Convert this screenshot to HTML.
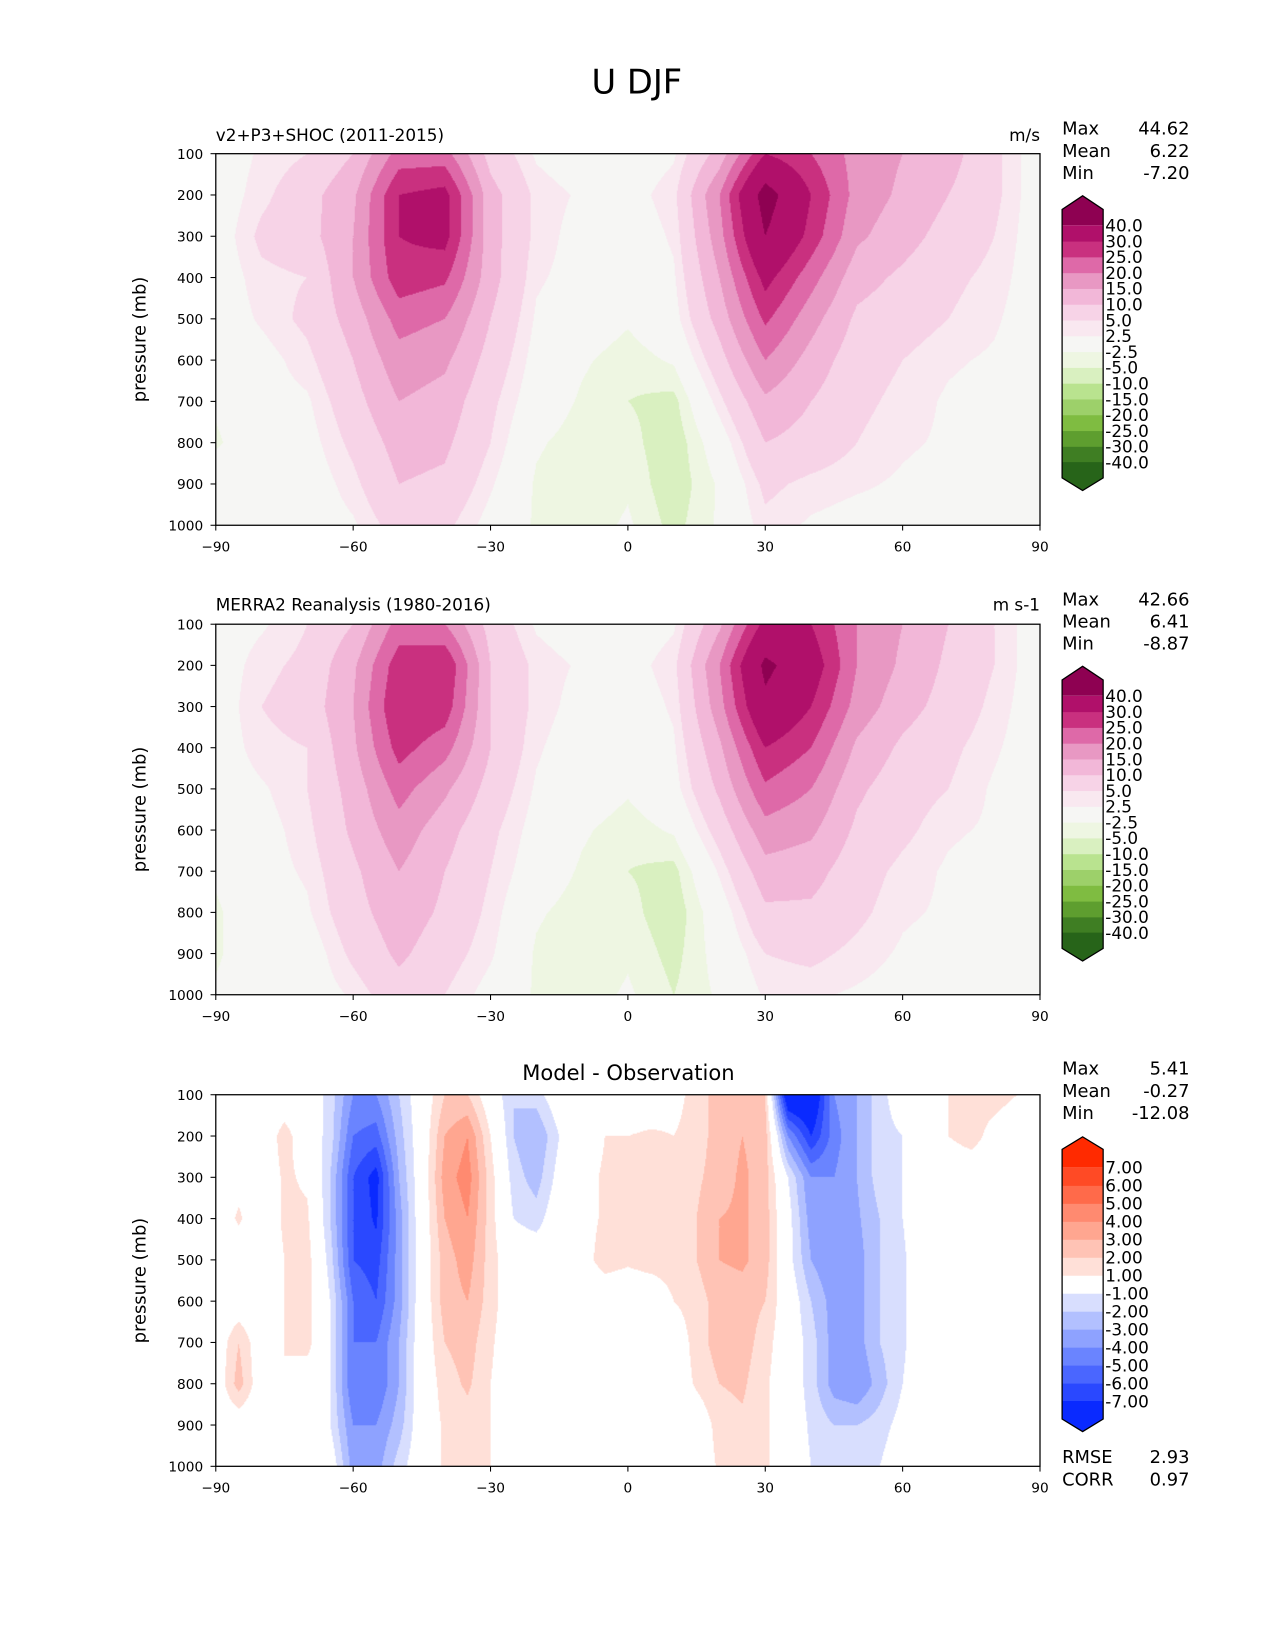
<!DOCTYPE html>
<html><head><meta charset="utf-8">
<style>
body{margin:0;background:#fff;overflow:hidden;}
#wrap{position:relative;width:1275px;height:1650px;overflow:hidden;}
#root{position:absolute;left:0;top:0;width:1212px;height:1568px;transform:scale(1.05263);transform-origin:0 0;font-family:"DejaVu Sans","Liberation Sans",sans-serif;}
canvas{position:absolute;}
svg{position:absolute;left:0;top:0;}
</style></head>
<body>
<div id="wrap">
<div id="root">
<canvas id="c1" style="left:205px;top:146px" width="783" height="353"></canvas>
<canvas id="c2" style="left:205px;top:593px" width="783" height="352"></canvas>
<canvas id="c3" style="left:205px;top:1040px" width="783" height="353"></canvas>
<svg id="ov" width="1212" height="1568"></svg>
</div>
</div>
<script>
const pressures=[100,200,300,400,500,600,700,800,900,1000];
const lat10=[-90,-80,-70,-60,-50,-40,-30,-20,-10,0,10,20,30,40,50,60,70,80,90];
const lat5=[-90,-85,-80,-75,-70,-65,-60,-55,-50,-45,-40,-35,-30,-25,-20,-15,-10,-5,0,5,10,15,20,25,30,35,40,45,50,55,60,65,70,75,80,85,90];
const modelU=[
[0,3,5,10,22,22,8,2,0,0,2,12,30,25,18,15,12,6,0],
[0,4,8,14,30,32,12,4,2,1,4,20,44,30,18,14,10,6,0],
[0,6,8,15,30,32,12,4,1,0,3,18,40,28,16,12,8,5,0],
[0,4,5,15,28,26,12,3,1,0,2,15,32,22,12,9,6,4,0],
[0,3,6,12,22,20,10,2,0,-2,1,12,26,17,9,7,5,3,0],
[0,1,4,10,18,16,8,1,-2,-4,-2,8,20,13,7,5,3,2,0],
[-2,1,2,8,15,13,6,0,-3,-5,-6,4,14,10,6,4,2,1,0],
[-3,0,1,6,12,11,5,-2,-4,-4,-7,0,10,8,5,3,2,1,0],
[0,0,0,4,10,9,3,-3,-5,-3,-7,-2,6,4,3,2,1,0,0],
[0,0,0,2,7,6,1,-3,-4,-2,-6,-2,4,2,1,1,0,0,0]];
const obsU=[
[0,2,5,10,22,20,8,2,0,0,2,14,32,30,20,15,10,5,0],
[0,4,6,14,28,30,10,4,2,1,4,20,42,34,20,14,9,5,0],
[0,5,7,15,30,28,10,4,1,0,3,18,38,30,18,12,8,4,0],
[0,4,5,14,27,22,10,3,0,0,2,14,30,25,14,9,6,3,0],
[0,2,5,12,22,16,8,2,0,-2,1,11,24,20,11,7,5,2,0],
[0,1,4,11,18,12,6,1,-2,-4,-2,7,18,16,9,6,3,2,0],
[-2,1,3,9,15,10,5,0,-3,-5,-6,3,13,12,7,4,2,1,0],
[-3,0,2,8,13,9,4,-2,-4,-4,-7,0,9,9,6,3,2,1,0],
[-3,0,0,6,11,7,3,-3,-5,-3,-6,-1,5,6,4,2,1,0,0],
[-2,0,0,3,8,5,1,-3,-4,-2,-5,-2,3,3,2,1,0,0,0]];
const diffU=[
[0,0,0,0,0,-1.5,-4,-4,-2,0,2,2,0,-2,-1.5,0,0,0,0,0,0.5,1.5,2.5,3,2,-9,-9,-4,-3,-1.5,0,0,1,1.5,1.5,1,0],
[0,0,0,1.5,0,-1.5,-5,-5.5,-2.5,0,3,4,1,-2,-3,-1,0,1,1,1.2,1,1.5,2.5,3,2.5,-4,-7,-4.5,-3,-1.5,-1,0,1,1.5,0.5,0,0],
[0,0.5,0,1.2,0.8,-2,-6,-7.5,-3,0,3.5,4.5,1.5,-1.5,-2.5,-0.5,0.5,1.2,1.2,1.2,1.2,1.8,2.5,3.2,2.5,-1,-4,-4,-3,-1.5,-1,0,0,0,0,0,0],
[0,1.2,0,1.2,1.2,-2,-6,-7.2,-3.5,0,3,4,1.5,-1,-1.5,0,0.5,1.2,1.2,1.2,1.2,2,3,3.2,2.5,-0.5,-3.5,-4,-3.2,-2,-1,0,0,0,0,0,0],
[0,0,0,1,1.5,-1.5,-6,-6.5,-3.5,0,2.5,3.5,1.5,0,0,0,0.5,1.5,1.2,1.5,1.5,2,3,3.2,2.5,-0.5,-3,-4,-3.5,-2,-1.2,0,0,0,0,0,0],
[0,0,0,1,1.5,-1,-5,-6,-3.5,0,2.5,3,1.5,0,0,0,0,0,0,0,1,1.5,2.5,2.5,2,0,-2,-3.5,-3.5,-2,-1.2,0,0,0,0,0,0],
[0,2,0,1,1.5,-1,-5,-5,-3,0,2,2.5,1.2,0,0,0,0,0,0,0,0,1.5,2.5,2.5,1.5,0,-1.5,-3.5,-3.5,-2,-1.2,0,0,0,0,0,0],
[0,2.5,0,1,0,-1,-5,-5,-3,0,1.5,2.2,1,0,0,0,0,0,0,0,0,1.2,2,2.2,1.2,0,-1.5,-3.5,-4,-2.5,-1,0,0,0,0,0,0],
[0,0,0,0,0,-1,-4,-4,-2.5,0,1.2,1.5,1,0,0,0,0,0,0,0,0,0,1.5,1.8,1.2,0,-1.2,-2,-2,-1.5,-0.5,0,0,0,0,0,0],
[0,0,0,0,0,0,-3.5,-3.5,-1.5,0,1.2,1.2,1,0,0,0,0,0,0,0,0,0,1.2,1.5,1.2,0,-1,-1.5,-1.5,-1,0,0,0,0,0,0,0]];
const uLevels=[-40,-30,-25,-20,-15,-10,-5,-2.5,2.5,5,10,15,20,25,30,40];
const uLabels=["-40.0","-30.0","-25.0","-20.0","-15.0","-10.0","-5.0","-2.5","2.5","5.0","10.0","15.0","20.0","25.0","30.0","40.0"];
const uColors=["#276419","#3f7e23","#5e9e2f","#7fbc41","#9dd06a","#b9e38f","#d9f0c0","#eef6e2","#f6f6f4","#f9e8f0","#f7d3e7","#f2b7d8","#e898c3","#de69a8","#c9307f","#b0106a","#8e0152"];
const dLevels=[-7,-6,-5,-4,-3,-2,-1,1,2,3,4,5,6,7];
const dLabels=["-7.00","-6.00","-5.00","-4.00","-3.00","-2.00","-1.00","1.00","2.00","3.00","4.00","5.00","6.00","7.00"];
const dColors=["#0a2aff","#2a48ff","#4a66ff","#6a84ff","#8ea2ff","#b2c0ff","#d8defe","#ffffff","#ffe0d8","#ffc3b5","#ffa690","#ff8a70","#ff6a4a","#ff4a25","#ff2a00"];
const xTicks=[-90,-60,-30,0,30,60,90];
const yTicks=[100,200,300,400,500,600,700,800,900,1000];
const stats1=[["Max","44.62"],["Mean","6.22"],["Min","-7.20"]];
const stats2=[["Max","42.66"],["Mean","6.41"],["Min","-8.87"]];
const stats3=[["Max","5.41"],["Mean","-0.27"],["Min","-12.08"]];
const stats4=[["RMSE","2.93"],["CORR","0.97"]];

function hex(c){return [parseInt(c.slice(1,3),16),parseInt(c.slice(3,5),16),parseInt(c.slice(5,7),16)];}
function sample(lats,grid,lat,p){
  let i=Math.min(lats.length-2,Math.max(0,Math.floor((lat-lats[0])/(lats[1]-lats[0]))));
  let fx=(lat-lats[i])/(lats[i+1]-lats[i]);
  let j=Math.min(pressures.length-2,Math.max(0,Math.floor((p-100)/100)));
  let fy=(p-pressures[j])/100;
  const a=grid[j][i],b=grid[j][i+1],c=grid[j+1][i],d=grid[j+1][i+1];
  return (a*(1-fx)+b*fx)*(1-fy)+(c*(1-fx)+d*fx)*fy;
}
function drawField(id,lats,grid,levels,colors){
  const cv=document.getElementById(id),ctx=cv.getContext('2d');
  const W=cv.width,H=cv.height,img=ctx.createImageData(W,H);
  const rgb=colors.map(hex);
  for(let y=0;y<H;y++){const p=100+900*(y+0.5)/H;
    for(let x=0;x<W;x++){const lat=-90+180*(x+0.5)/W;
      const v=sample(lats,grid,lat,p);let k=0;while(k<levels.length&&v>=levels[k])k++;
      const c=rgb[k],o=(y*W+x)*4;img.data[o]=c[0];img.data[o+1]=c[1];img.data[o+2]=c[2];img.data[o+3]=255;}}
  ctx.putImageData(img,0,0);
}
drawField('c1',lat10,modelU,uLevels,uColors);
drawField('c2',lat10,obsU,uLevels,uColors);
drawField('c3',lat5,diffU,dLevels,dColors);

const NS="http://www.w3.org/2000/svg",ov=document.getElementById('ov');
function el(tag,attrs,txt){const e=document.createElementNS(NS,tag);for(const k in attrs)e.setAttribute(k,attrs[k]);if(txt!==undefined)e.textContent=txt;ov.appendChild(e);return e;}
function txt(x,y,s,size,anchor,name){const t=el('text',{x:x,y:y,'font-size':size,'text-anchor':anchor||'start',fill:'#000'},s);

return t;}
const X0=205,X1=988;
function axes(top,bot,pref){
  const xs=v=>X0+(v+90)/180*(X1-X0), ys=p=>top+(p-100)/900*(bot-top);
  const r=el('rect',{x:X0,y:top,width:X1-X0,height:bot-top,fill:'none',stroke:'#000','stroke-width':1.2});
  
  
  xTicks.forEach(v=>{const l=el('line',{x1:xs(v),x2:xs(v),y1:bot,y2:bot+5,stroke:'#000'});
    
    
    txt(xs(v),bot+25,(v<0?'\u2212'+(-v):''+v),13,'middle',pref+'-x-tick-label');});
  yTicks.forEach(p=>{const l=el('line',{x1:X0-5,x2:X0,y1:ys(p),y2:ys(p),stroke:'#000'});
    
    
    txt(X0-12,ys(p)+5,''+p,13,'end',pref+'-y-tick-label');});
  const yt=txt(0,0,'pressure (mb)',17,'middle',pref+'-y-axis-title');
  yt.setAttribute('transform','translate(138,'+((top+bot)/2)+') rotate(-90)');
}
function stats(list,y0,pref){list.forEach((s,i)=>{txt(1009,y0+i*21,s[0],17,'start',pref+'-stat-label');txt(1130,y0+i*21,s[1],17,'end',pref+'-stat-value');});}
function colorbar(topTip,y0,y1,botTip,levels,labels,colors,pref){
  const n=levels.length,step=(y1-y0)/(n-1),L=1009,R=1048,M=1028.5;
  const yl=k=>y1-k*step;
  for(let k=0;k<n-1;k++){const r=el('rect',{x:L,y:yl(k+1),width:R-L,height:step+0.5,fill:colors[k+1]});
    
    }
  const tp=el('polygon',{points:`${L},${y0} ${L},${y0-step} ${M},${topTip} ${R},${y0-step} ${R},${y0}`,fill:colors[n]});
  
  
  const bp=el('polygon',{points:`${L},${y1} ${L},${y1+step} ${M},${botTip} ${R},${y1+step} ${R},${y1}`,fill:colors[0]});
  
  
  const o=el('polygon',{points:`${L},${y0} ${L},${y0-step} ${M},${topTip} ${R},${y0-step} ${R},${y1+step} ${M},${botTip} ${L},${y1+step}`,fill:'none',stroke:'#000','stroke-width':1.2});
  
  
  labels.forEach((s,k)=>txt(1050,yl(k)+6,s,16,'start',pref+'-colorbar-label'));
}
txt(605,89,'U DJF',32,'middle','figure-title');
axes(146,499,'model');
txt(205,134,'v2+P3+SHOC (2011-2015)',16,'start','model-panel-title');
txt(988,134,'m/s',16,'end','model-units');
stats(stats1,128,'model');
colorbar(186,214,439,466,uLevels,uLabels,uColors,'model');
axes(593,945,'obs');
txt(205,580,'MERRA2 Reanalysis (1980-2016)',16,'start','obs-panel-title');
txt(988,580,'m s-1',16,'end','obs-units');
stats(stats2,575,'obs');
colorbar(633,661,886,913,uLevels,uLabels,uColors,'obs');
axes(1040,1393,'diff');
txt(597,1026,'Model - Observation',20,'middle','diff-panel-title');
stats(stats3,1021,'diff');
colorbar(1080,1109,1331,1360,dLevels,dLabels,dColors,'diff');
stats(stats4,1390,'diff-metrics');
</script>
</body></html>
